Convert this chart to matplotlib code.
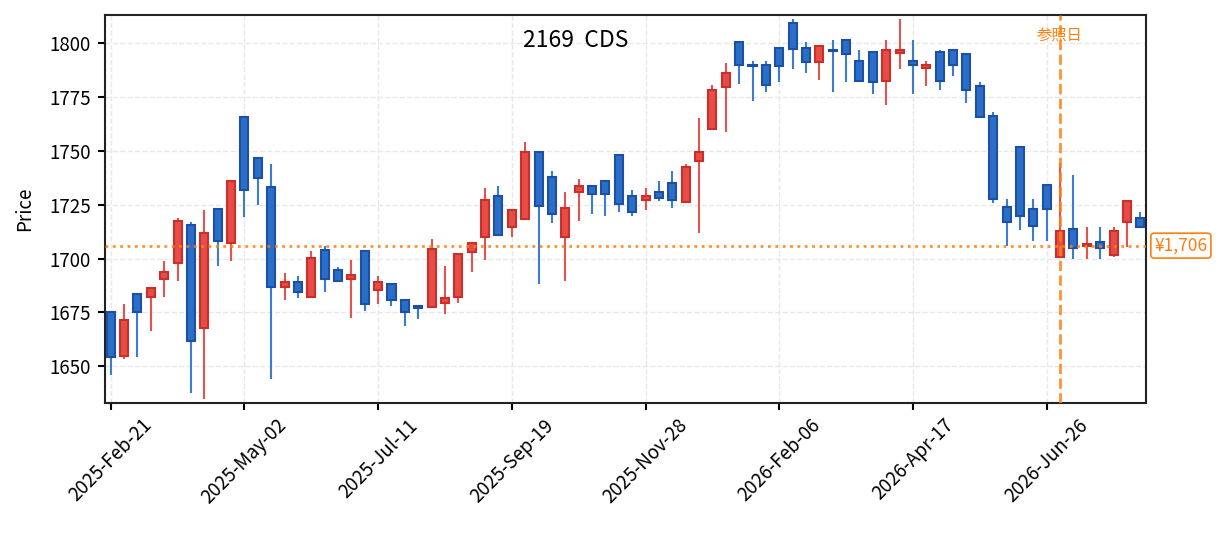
import numpy as np
import pandas as pd
import matplotlib
matplotlib.use("Agg")
import matplotlib.pyplot as plt
import matplotlib.dates as mdates
from matplotlib.patches import Rectangle

plt.rcParams['font.family'] = ['Noto Sans CJK JP', 'DejaVu Sans']

# weekly candles
dates = pd.date_range('2025-02-21', periods=78, freq='7D')
opens = [1675.2, 1655.0, 1683.5, 1682.4, 1690.7, 1698.0, 1715.4, 1668.0, 1722.8, 1707.4,
         1765.9, 1746.8, 1733.0, 1687.0, 1689.0, 1682.4, 1703.9, 1694.6, 1690.7, 1703.4,
         1685.2, 1688.1, 1680.6, 1678.1, 1677.6, 1679.3, 1682.3, 1703.1, 1709.9, 1729.2,
         1714.5, 1718.4, 1749.5, 1738.0, 1710.0, 1730.9, 1733.8, 1736.1, 1748.1, 1729.2,
         1727.2, 1731.0, 1735.2, 1726.2, 1745.3, 1760.2, 1779.8, 1800.5, 1790.0, 1789.9,
         1797.7, 1809.5, 1797.7, 1791.3, 1796.9, 1801.4, 1791.6, 1795.8, 1782.6, 1795.5,
         1791.6, 1788.5, 1795.8, 1796.7, 1795.0, 1780.0, 1766.0, 1724.1, 1751.7, 1723.1,
         1734.0, 1700.6, 1713.8, 1705.7, 1707.9, 1701.6, 1716.9, 1719.0]
closes = [1654.2, 1671.5, 1675.0, 1686.3, 1693.7, 1717.3, 1661.6, 1711.7, 1708.3, 1735.8,
          1732.0, 1737.5, 1687.0, 1689.0, 1684.3, 1700.2, 1690.6, 1689.7, 1692.4, 1678.9,
          1689.0, 1680.6, 1675.3, 1677.3, 1704.3, 1681.6, 1702.3, 1707.4, 1727.3, 1711.0,
          1722.7, 1749.5, 1724.2, 1720.7, 1723.6, 1733.8, 1729.9, 1730.1, 1725.5, 1721.6,
          1729.2, 1728.1, 1727.2, 1742.7, 1749.6, 1778.1, 1786.0, 1789.6, 1789.4, 1780.7,
          1789.4, 1797.4, 1791.3, 1798.8, 1796.3, 1794.9, 1782.6, 1781.7, 1796.7, 1796.7,
          1789.6, 1789.8, 1782.6, 1789.6, 1778.0, 1765.8, 1727.5, 1716.9, 1719.9, 1715.1,
          1723.0, 1713.0, 1704.8, 1706.8, 1704.8, 1713.0, 1726.9, 1714.6]
highs = [1675.2, 1678.7, 1683.5, 1686.3, 1699.0, 1719.0, 1717.0, 1722.7, 1722.8, 1736.6,
         1766.0, 1746.8, 1744.0, 1693.5, 1691.7, 1703.7, 1705.6, 1696.3, 1699.5, 1703.4,
         1692.1, 1688.1, 1680.6, 1678.5, 1709.1, 1696.6, 1702.3, 1707.4, 1732.7, 1733.6,
         1722.7, 1754.0, 1749.5, 1740.6, 1730.9, 1736.7, 1733.8, 1736.1, 1748.1, 1731.8,
         1732.7, 1736.0, 1740.6, 1744.1, 1765.0, 1780.7, 1790.5, 1800.5, 1791.5, 1791.5,
         1797.7, 1811.0, 1800.3, 1798.8, 1801.2, 1801.4, 1796.6, 1795.8, 1801.2, 1811.0,
         1801.2, 1791.5, 1796.6, 1796.7, 1795.0, 1781.7, 1768.2, 1727.5, 1752.3, 1727.5,
         1734.0, 1744.4, 1738.8, 1714.6, 1714.6, 1714.6, 1726.9, 1721.6]
lows = [1645.8, 1653.4, 1654.2, 1666.4, 1682.4, 1689.8, 1637.7, 1634.9, 1696.4, 1699.0,
        1719.1, 1724.7, 1644.1, 1680.6, 1681.6, 1682.4, 1684.3, 1689.0, 1672.2, 1675.6,
        1678.9, 1678.0, 1668.8, 1671.8, 1676.9, 1674.5, 1679.6, 1694.0, 1699.5, 1711.0,
        1710.2, 1718.4, 1688.0, 1716.7, 1689.8, 1717.6, 1720.8, 1719.9, 1721.8, 1719.9,
        1722.7, 1726.5, 1723.6, 1726.2, 1712.0, 1760.2, 1758.5, 1780.9, 1773.0, 1777.2,
        1781.8, 1787.9, 1786.0, 1782.8, 1777.2, 1781.8, 1781.8, 1776.2, 1771.1, 1787.9,
        1776.2, 1780.0, 1778.1, 1784.6, 1772.0, 1765.8, 1726.0, 1705.6, 1713.4, 1708.1,
        1708.1, 1700.6, 1699.8, 1699.8, 1699.8, 1700.8, 1705.3, 1714.6]

ticker = '2169'
name = 'CDS'
ref_date = pd.Timestamp('2026-07-03')
ref_label = '参照日'
ref_price = 1706

up_face, up_edge, up_wick = '#e84c47', '#c9302c', '#e35350'
dn_face, dn_edge, dn_wick = '#2a6fc7', '#1c4fa5', '#3a7ccf'
orange = '#ff7f0e'

fig = plt.figure(figsize=(12.25, 5.33), dpi=100)
ax = fig.add_axes([0.0857, 0.2439, 0.8498, 0.728])

x = mdates.date2num(dates)
width = 4.2  # days
for xi, o, h, l, c in zip(x, opens, highs, lows, closes):
    up = c > o
    ax.vlines(xi, l, h, color=up_wick if up else dn_wick, linewidth=1.5, zorder=2)
    ax.add_patch(Rectangle((xi - width / 2, min(o, c)), width, max(abs(c - o), 0.4),
                           facecolor=up_face if up else dn_face,
                           edgecolor=up_edge if up else dn_edge,
                           linewidth=1.5, zorder=3))

# reference date and price
ax.axvline(mdates.date2num(ref_date), color=orange, linestyle='--', linewidth=2,
           alpha=0.85, zorder=4)
ax.text(mdates.date2num(ref_date), 0.948, ref_label, transform=ax.get_xaxis_transform(),
        ha='center', va='center', color=orange, fontsize=11)
ax.axhline(ref_price, color=orange, linestyle=':', linewidth=2, alpha=0.85, zorder=4)
ax.text(1.008, ref_price, f'¥{ref_price:,}', transform=ax.get_yaxis_transform(),
        ha='left', va='center', color=orange, fontsize=12.5,
        bbox=dict(boxstyle='round,pad=0.2', facecolor='white', edgecolor=orange, linewidth=1.2))

ax.text(0.452, 0.935, f'{ticker}  {name}', transform=ax.transAxes,
        ha='center', va='center', fontsize=16.5)

ax.set_xlim(x[0] - 3, x[-1] + 3)
ax.set_ylim(1633, 1813)
ax.set_xticks(x[::10])
ax.xaxis.set_major_formatter(mdates.DateFormatter('%Y-%b-%d'))
plt.setp(ax.get_xticklabels(), rotation=45, ha='center')
ax.set_yticks([1650, 1675, 1700, 1725, 1750, 1775, 1800])
ax.tick_params(labelsize=13.5, length=5, width=1.5)
ax.tick_params(axis='y', pad=5)
ax.set_ylabel('Price', fontsize=13.5, labelpad=10)
ax.grid(True, linestyle='--', color='#e8e8e8', linewidth=1)
ax.set_axisbelow(True)
for s in ax.spines.values():
    s.set_linewidth(1.5)
    s.set_color('#222222')

fig.savefig('out.png', dpi=100)
